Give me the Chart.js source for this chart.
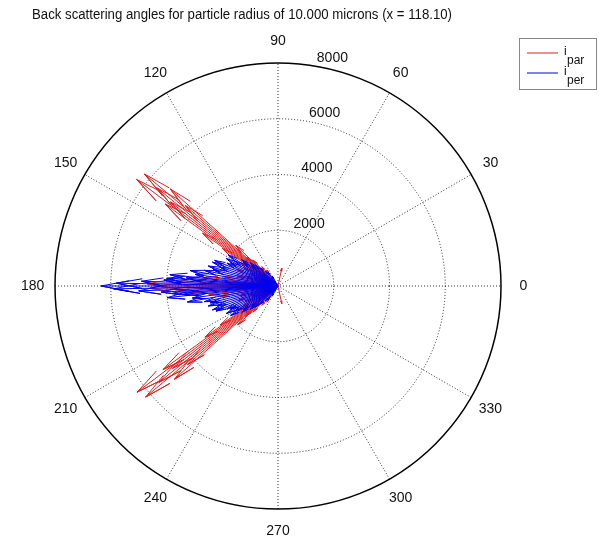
<!DOCTYPE html>
<html>
<head>
<meta charset="utf-8">
<script src="https://cdn.jsdelivr.net/npm/chart.js@4"></script>
<style>
  body { margin: 0; background: #fff; }
  canvas { display: block; }
</style>
</head>
<body>
<canvas id="polar" width="600" height="537"></canvas>
<script>
// values (angle in degrees, magnitude)
var parAngles = [78, 125, 130, 134, 136, 137, 138, 139, 140, 141, 142, 143, 144, 145, 146, 148, 150, 152, 155, 158, 160, 163, 166, 170, 173, 176, 178, 179, 180,
  181, 182, 184, 187, 190, 194, 197, 200, 202, 205, 208, 210, 212, 214, 215, 216, 217, 218, 219, 220, 221, 222, 223, 224, 226, 230, 235, 282];
var parValues = [650, 700, 900, 1300, 2100, 1500, 5200, 4400, 6250, 5600, 4900, 6350, 5000, 3300, 2400, 1600, 1200, 1400, 1100, 1600, 900, 1200, 1500, 2000, 2600, 3000, 3800, 4700, 4200,
  4600, 3700, 3100, 2500, 2100, 1400, 1100, 1500, 1000, 1300, 1200, 1500, 1700, 2500, 3200, 5100, 6330, 4800, 5500, 6200, 4300, 5000, 1600, 2000, 1300, 900, 700, 650];

var perAngles = [120, 126, 130, 134, 137, 140, 142, 144, 146, 148, 150, 152, 154, 156, 158, 160, 162, 164, 166, 168, 170, 172, 174, 175, 176, 177, 178, 179, 180,
  181, 182, 183, 184, 185, 186, 188, 190, 192, 194, 196, 198, 200, 202, 204, 206, 208, 210, 212, 214, 216, 218, 220, 223, 226, 230, 234, 240];
var perValues = [400, 600, 700, 900, 1100, 1300, 1200, 1600, 1500, 2100, 1800, 2100, 1900, 2000, 2450, 2500, 2200, 2600, 2400, 2700, 3200, 3000, 3900, 3300, 4000, 4100, 4900, 5800, 6350,
  5900, 5000, 4200, 3800, 3400, 4000, 3100, 3300, 2700, 2500, 2600, 2300, 2500, 2400, 2000, 1900, 2100, 1800, 2000, 1500, 1600, 1200, 1300, 1100, 900, 700, 600, 400];

var radialTicks = [2000, 4000, 6000, 8000];
var angleTicks = [0, 30, 60, 90, 120, 150, 180, 210, 240, 270, 300, 330];
var rMax = 8000;

var titleText = 'Back scattering angles for particle radius of 10.000 microns (x = 118.10)';

// compass style arrows: origin -> tip -> head -> tip -> head, then a gap
function arrows(angles, values) {
  var pts = [];
  for (var i = 0; i < angles.length; i++) {
    var t = angles[i] * Math.PI / 180;
    var r = values[i];
    var c = Math.cos(t), s = Math.sin(t);
    var tip = {x: r * c, y: r * s};
    var h1 = {x: 0.84 * r * c - 0.03 * r * s, y: 0.84 * r * s + 0.03 * r * c};
    var h2 = {x: 0.84 * r * c + 0.03 * r * s, y: 0.84 * r * s - 0.03 * r * c};
    pts.push({x: 0, y: 0}, tip, h1, tip, h2, {x: NaN, y: NaN});
  }
  return pts;
}

var polarGrid = {
  id: 'polarGrid',
  beforeDraw: function(chart) {
    var ctx = chart.ctx;
    ctx.save();
    ctx.fillStyle = '#fff';
    ctx.fillRect(0, 0, chart.width, chart.height);
    ctx.restore();
  },
  beforeDatasetsDraw: function(chart) {
    var ctx = chart.ctx;
    var xs = chart.scales.x, ys = chart.scales.y;
    var cx = xs.getPixelForValue(0), cy = ys.getPixelForValue(0);
    ctx.save();
    ctx.lineWidth = 1;
    ctx.strokeStyle = 'rgba(0,0,0,0.8)';
    ctx.setLineDash([1, 2]);
    // spokes
    for (var a = 0; a < 180; a += 30) {
      var t = a * Math.PI / 180;
      ctx.beginPath();
      ctx.moveTo(xs.getPixelForValue(-rMax * Math.cos(t)), ys.getPixelForValue(-rMax * Math.sin(t)));
      ctx.lineTo(xs.getPixelForValue(rMax * Math.cos(t)), ys.getPixelForValue(rMax * Math.sin(t)));
      ctx.stroke();
    }
    // rings
    radialTicks.forEach(function(v) {
      if (v === rMax) return;
      var rad = xs.getPixelForValue(v) - cx;
      ctx.beginPath();
      ctx.arc(cx, cy, rad, 0, 2 * Math.PI);
      ctx.stroke();
    });
    ctx.setLineDash([]);
    ctx.strokeStyle = '#000';
    ctx.lineWidth = 1.5;
    ctx.beginPath();
    ctx.arc(cx, cy, xs.getPixelForValue(rMax) - cx, 0, 2 * Math.PI);
    ctx.stroke();

    // angle labels
    ctx.fillStyle = '#111';
    ctx.font = '14px "Liberation Sans", Arial, sans-serif';
    ctx.textAlign = 'center';
    ctx.textBaseline = 'middle';
    angleTicks.forEach(function(a) {
      var t = a * Math.PI / 180;
      ctx.fillText(String(a), xs.getPixelForValue(1.1 * rMax * Math.cos(t)), ys.getPixelForValue(1.1 * rMax * Math.sin(t)));
    });
    // radial labels at 82 degrees
    ctx.textAlign = 'left';
    ctx.textBaseline = 'bottom';
    var t82 = 82 * Math.PI / 180;
    radialTicks.forEach(function(v) {
      ctx.fillText('  ' + v, xs.getPixelForValue(v * Math.cos(t82)), ys.getPixelForValue(v * Math.sin(t82)));
    });
    ctx.restore();
  },
  afterDraw: function(chart) {
    var ctx = chart.ctx;
    ctx.save();
    // title
    ctx.fillStyle = '#111';
    ctx.font = '14px "Liberation Sans", Arial, sans-serif';
    ctx.textAlign = 'left';
    ctx.textBaseline = 'alphabetic';
    ctx.fillText(titleText, 32, 19, 420);

    // legend
    ctx.fillStyle = '#fff';
    ctx.fillRect(519, 38, 77, 51);
    ctx.strokeStyle = '#888';
    ctx.lineWidth = 1;
    ctx.strokeRect(519.5, 38.5, 77, 51);
    var items = [
      {color: chart.data.datasets[1].borderColor, sub: 'par', y: 53},
      {color: chart.data.datasets[0].borderColor, sub: 'per', y: 73}
    ];
    items.forEach(function(it) {
      ctx.strokeStyle = it.color;
      ctx.beginPath();
      ctx.moveTo(527, it.y);
      ctx.lineTo(558, it.y);
      ctx.stroke();
      ctx.fillStyle = '#111';
      ctx.font = '12px "Liberation Sans", Arial, sans-serif';
      ctx.fillText('i', 564, it.y + 2);
      ctx.fillText(it.sub, 567, it.y + 11);
    });
    ctx.restore();
  }
};

new Chart(document.getElementById('polar'), {
  type: 'scatter',
  data: {
    datasets: [
      {
        label: 'iper',
        data: arrows(perAngles, perValues),
        showLine: true,
        spanGaps: false,
        borderColor: '#0000ee',
        borderWidth: 1,
        pointRadius: 0
      },
      {
        label: 'ipar',
        data: arrows(parAngles, parValues),
        showLine: true,
        spanGaps: false,
        borderColor: '#dd2222',
        borderWidth: 1,
        pointRadius: 0
      }
    ]
  },
  options: {
    responsive: false,
    animation: false,
    layout: { padding: { left: 55, right: 99, top: 63, bottom: 28 } },
    scales: {
      x: { type: 'linear', min: -rMax, max: rMax, display: false },
      y: { type: 'linear', min: -rMax, max: rMax, display: false }
    },
    plugins: {
      legend: { display: false },
      tooltip: { enabled: false }
    }
  },
  plugins: [polarGrid]
});
</script>
</body>
</html>
